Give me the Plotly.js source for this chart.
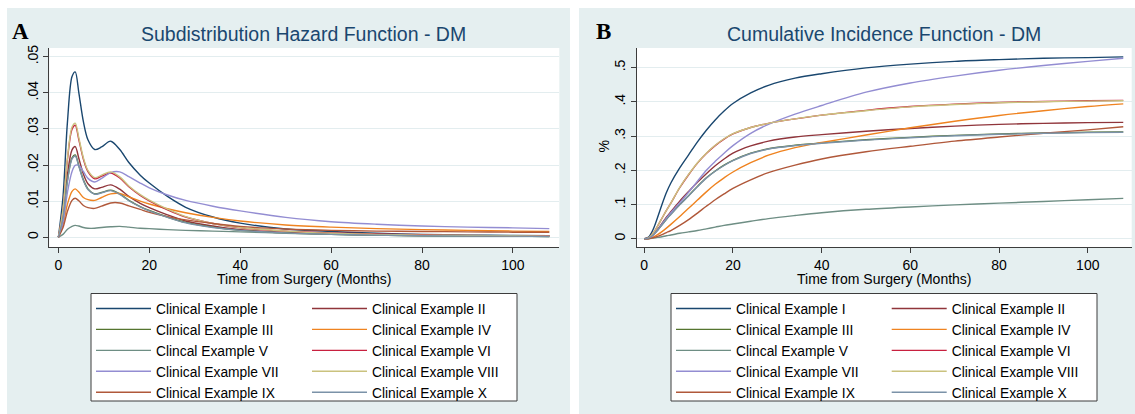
<!DOCTYPE html>
<html><head><meta charset="utf-8">
<script src="https://cdn.plot.ly/plotly-3.0.1.min.js"></script>
<style>html,body{margin:0;padding:0;background:#fff}#chart{width:1135px;height:414px}</style>
</head><body><div id="chart"></div><script>
// ---------- data ----------
const seriesNames = ["Clinical Example I","Clinical Example II","Clinical Example III","Clinical Example IV","Clincal Example V",
  "Clinical Example VI","Clinical Example VII","Clinical Example VIII","Clinical Example IX","Clinical Example X"];
const seriesColors = ["#1a476f","#90353b","#55752f","#ef8320","#6e8e84","#c8203f","#938dd2","#cac27e","#b0583a","#7b92a8"];

// Panel A: subdistribution hazard
const timeHazard = [0,1,2,3,3.7,4.5,5.5,6.5,8,9.5,11.5,13.5,15.5,18,20,24,28,34,40,50,60,70,80,90,100,108];
const hazI    = [0,0.011,0.032,0.0445,0.0458,0.040,0.032,0.027,0.0243,0.025,0.0266,0.0243,0.0207,0.0172,0.0150,0.0113,0.0083,0.0056,0.0039,0.0023,0.0016,0.0011,0.0008,0.0006,0.0005,0.0004];
const hazII   = [0,0.006,0.0174,0.0242,0.0251,0.0218,0.0175,0.0148,0.0134,0.0138,0.0145,0.0133,0.0113,0.0094,0.0082,0.0062,0.0045,0.0031,0.0021,0.0013,0.0009,0.0006,0.0005,0.0004,0.0003,0.0003];
const hazIII  = [0,0.0054,0.0158,0.022,0.0228,0.0198,0.0159,0.0134,0.012,0.0124,0.013,0.012,0.0102,0.0085,0.0074,0.0056,0.0041,0.0028,0.0019,0.0012,0.0008,0.0006,0.0004,0.0003,0.0003,0.0002];
const hazIV   = [0,0.0035,0.0092,0.0127,0.0134,0.0125,0.011,0.0104,0.0102,0.011,0.012,0.0121,0.0112,0.0100,0.0092,0.0079,0.0068,0.0055,0.0045,0.0034,0.0028,0.0024,0.0021,0.0019,0.0017,0.0016];
const hazV    = [0,0.0008,0.0022,0.003,0.0033,0.0031,0.0027,0.0025,0.0025,0.0027,0.0029,0.003,0.0028,0.0025,0.0024,0.0021,0.0019,0.0017,0.0015,0.0011,0.0008,0.0006,0.0005,0.0005,0.0004,0.0004];
const hazVI   = [0,0.0074,0.0216,0.0299,0.031,0.027,0.0216,0.0182,0.0162,0.0169,0.0178,0.0164,0.014,0.0116,0.0101,0.0076,0.0056,0.0038,0.0026,0.0017,0.0012,0.0009,0.0007,0.0005,0.0004,0.0004];
const hazVII  = [0,0.004,0.0125,0.0182,0.0199,0.0199,0.0182,0.0163,0.0153,0.0163,0.0179,0.0181,0.0168,0.0150,0.0137,0.0117,0.0102,0.0086,0.0073,0.0055,0.0043,0.0036,0.0031,0.0028,0.0026,0.0024];
const hazVIII = [0,0.0076,0.022,0.0305,0.0316,0.0275,0.022,0.0185,0.0165,0.0172,0.0181,0.0167,0.0142,0.0118,0.0103,0.0078,0.0057,0.0038,0.0027,0.0017,0.0011,0.0008,0.0006,0.0005,0.0004,0.0003];
const hazIX   = [0,0.0026,0.0072,0.0102,0.0108,0.0101,0.0088,0.0082,0.008,0.0086,0.0095,0.0095,0.0087,0.0077,0.0069,0.0057,0.0048,0.0038,0.003,0.0023,0.0019,0.0017,0.0016,0.0015,0.0014,0.0014];
const hazX    = [0,0.0053,0.0156,0.0217,0.0225,0.0196,0.0157,0.0132,0.0119,0.0123,0.0129,0.0119,0.0101,0.0084,0.0073,0.0055,0.004,0.0027,0.0019,0.0012,0.0008,0.0006,0.0004,0.0003,0.0003,0.0002];

// Panel B: cumulative incidence
const timeCif = [0,1,2,3,4,5,6,8,10,12,14,16,18,20,24,28,34,40,50,60,70,80,90,100,108];
const cifI    = [0,0.005,0.027,0.062,0.100,0.135,0.163,0.207,0.245,0.283,0.317,0.347,0.373,0.395,0.426,0.448,0.469,0.482,0.499,0.510,0.518,0.523,0.527,0.529,0.531];
const cifII   = [0,0.002,0.012,0.027,0.045,0.063,0.079,0.110,0.138,0.165,0.190,0.213,0.233,0.250,0.271,0.285,0.297,0.304,0.314,0.322,0.329,0.334,0.337,0.339,0.340];
const cifIII  = [0,0.002,0.011,0.025,0.041,0.057,0.072,0.100,0.126,0.153,0.178,0.198,0.215,0.229,0.250,0.263,0.273,0.280,0.289,0.296,0.302,0.306,0.309,0.311,0.312];
const cifIV   = [0,0.001,0.005,0.012,0.021,0.031,0.042,0.065,0.089,0.113,0.137,0.159,0.178,0.195,0.222,0.244,0.266,0.281,0.303,0.324,0.343,0.360,0.374,0.386,0.394];
const cifV    = [0,0,0.002,0.004,0.006,0.009,0.011,0.016,0.020,0.024,0.029,0.034,0.039,0.043,0.051,0.059,0.068,0.076,0.086,0.093,0.099,0.104,0.109,0.114,0.118];
const cifVI   = [0,0.003,0.016,0.037,0.060,0.083,0.104,0.149,0.187,0.221,0.249,0.272,0.291,0.306,0.325,0.337,0.350,0.361,0.375,0.386,0.393,0.398,0.401,0.403,0.404];
const cifVII  = [0,0.002,0.010,0.025,0.043,0.060,0.076,0.105,0.136,0.168,0.200,0.226,0.250,0.272,0.308,0.334,0.364,0.389,0.428,0.455,0.475,0.492,0.506,0.518,0.527];
const cifVIII = [0,0.003,0.016,0.037,0.060,0.083,0.104,0.150,0.188,0.222,0.250,0.273,0.292,0.307,0.325,0.337,0.350,0.361,0.374,0.385,0.392,0.397,0.400,0.402,0.403];
const cifIX   = [0,0,0.003,0.007,0.012,0.018,0.024,0.039,0.056,0.075,0.095,0.114,0.131,0.147,0.172,0.193,0.215,0.233,0.254,0.270,0.285,0.297,0.308,0.318,0.327];
const cifX    = [0,0.002,0.011,0.025,0.041,0.057,0.071,0.099,0.125,0.152,0.177,0.197,0.214,0.228,0.249,0.262,0.272,0.279,0.288,0.295,0.301,0.305,0.308,0.310,0.311];

const xTickVals = [0,20,40,60,80,100];
const xTickText = ["0","20","40","60","80","100"];
const hazTickVals = [0,0.01,0.02,0.03,0.04,0.05];
const hazTickText = ["0",".01",".02",".03",".04",".05"];
const cifTickVals = [0,0.1,0.2,0.3,0.4,0.5];
const cifTickText = ["0",".1",".2",".3",".4",".5"];

// ---------- build ----------
const W = 1135, H = 414;
const px = v => v / W;
const py = v => 1 - v / H;
const FONT = "Liberation Sans, Arial, Helvetica, sans-serif";
const hazSeries = [hazI,hazII,hazIII,hazIV,hazV,hazVI,hazVII,hazVIII,hazIX,hazX];
const cifSeries = [cifI,cifII,cifIII,cifIV,cifV,cifVI,cifVII,cifVIII,cifIX,cifX];

const traces = [];
hazSeries.forEach((ys, i) => traces.push({
  type: "scatter", mode: "lines", x: timeHazard, y: ys, name: seriesNames[i],
  xaxis: "x", yaxis: "y", legend: i % 2 === 0 ? "legend" : "legend2",
  line: {color: seriesColors[i], width: 1.4, shape: "spline", smoothing: 0.9}, hoverinfo: "skip"
}));
cifSeries.forEach((ys, i) => traces.push({
  type: "scatter", mode: "lines", x: timeCif, y: ys, name: seriesNames[i],
  xaxis: "x2", yaxis: "y2", legend: i % 2 === 0 ? "legend3" : "legend4",
  line: {color: seriesColors[i], width: 1.4, shape: "spline", smoothing: 0.9}, hoverinfo: "skip"
}));

const axisLine = "#3c3c3c";
const gridCol = "#e3edef";
const panelCol = "#e5eff0";
function xAxis(domain, range, anchor) {
  return {domain, range, anchor, tickvals: xTickVals, ticktext: xTickText, showline: true, linecolor: axisLine,
    linewidth: 1, ticks: "outside", ticklen: 5, tickwidth: 1, tickcolor: axisLine, showgrid: false, zeroline: false,
    tickfont: {family: FONT, size: 14, color: "#000"}, fixedrange: true};
}
function yAxis(domain, range, anchor, tv, tt) {
  return {domain, range, anchor, tickvals: tv, ticktext: tt, tickangle: -90, showline: true, linecolor: axisLine,
    linewidth: 1, ticks: "outside", ticklen: 5, tickwidth: 1, tickcolor: axisLine, showgrid: true, gridcolor: gridCol,
    gridwidth: 1, zeroline: false, tickfont: {family: FONT, size: 14, color: "#000"}, fixedrange: true};
}
function leg(xPix) {
  return {x: px(xPix), xanchor: "left", y: py(293), yanchor: "top", orientation: "v", bgcolor: "rgba(0,0,0,0)",
    borderwidth: 0, font: {family: FONT, size: 13.8, color: "#000"}, itemwidth: 55, tracegroupgap: 0, traceorder: "normal"};
}
function ann(text, xPix, yPix, size, color, extra) {
  return Object.assign({text, x: px(xPix), y: py(yPix), xref: "paper", yref: "paper", showarrow: false,
    xanchor: "center", yanchor: "middle", font: {family: FONT, size, color}}, extra || {});
}

const layout = {
  width: W, height: H, margin: {l: 0, r: 0, t: 0, b: 0},
  paper_bgcolor: "#ffffff", plot_bgcolor: "rgba(0,0,0,0)", showlegend: true,
  xaxis: xAxis([px(49.3), px(559.3)], [-2, 110.2], "y"),
  yaxis: yAxis([py(247), py(48)], [-0.0027, 0.0524], "x", hazTickVals, hazTickText),
  xaxis2: xAxis([px(636.7), px(1131.7)], [-1.7, 109.9], "y2"),
  yaxis2: yAxis([py(247), py(48)], [-0.024, 0.557], "x2", cifTickVals, cifTickText),
  legend: leg(91), legend2: leg(307), legend3: leg(671), legend4: leg(886.7),
  shapes: [
    {type: "rect", xref: "paper", yref: "paper", x0: px(7), x1: px(570), y0: 0, y1: py(8), fillcolor: panelCol, line: {width: 0}, layer: "below"},
    {type: "rect", xref: "paper", yref: "paper", x0: px(579), x1: 1, y0: 0, y1: py(8), fillcolor: panelCol, line: {width: 0}, layer: "below"},
    {type: "rect", xref: "paper", yref: "paper", x0: px(91), x1: px(517), y0: py(401), y1: py(293.5), fillcolor: "#ffffff", line: {width: 1, color: axisLine}, layer: "below"},
    {type: "rect", xref: "paper", yref: "paper", x0: px(671), x1: px(1097), y0: py(401), y1: py(293.5), fillcolor: "#ffffff", line: {width: 1, color: axisLine}, layer: "below"},
    {type: "rect", xref: "x domain", yref: "y domain", x0: 0, x1: 1, y0: 0, y1: 1, fillcolor: "#ffffff", line: {width: 0}, layer: "below"},
    {type: "rect", xref: "x2 domain", yref: "y2 domain", x0: 0, x1: 1, y0: 0, y1: 1, fillcolor: "#ffffff", line: {width: 0}, layer: "below"}
  ],
  annotations: [
    ann("<b>A</b>", 20, 31, 23, "#000", {font: {family: "Liberation Serif, Times New Roman, serif", size: 23, color: "#000"}}),
    ann("<b>B</b>", 603.5, 31, 23, "#000", {font: {family: "Liberation Serif, Times New Roman, serif", size: 23, color: "#000"}}),
    ann("Subdistribution Hazard Function - DM", 303.5, 34, 19.5, "#1a476f"),
    ann("Cumulative Incidence Function - DM", 883.5, 34, 19.5, "#1a476f"),
    ann("Time from Surgery (Months)", 304.3, 279, 14, "#000"),
    ann("Time from Surgery (Months)", 884.2, 279, 14, "#000"),
    ann("%", 603, 146.5, 14, "#000", {textangle: -90})
  ]
};

Plotly.newPlot("chart", traces, layout, {staticPlot: true, displayModeBar: false});
</script></body></html>
